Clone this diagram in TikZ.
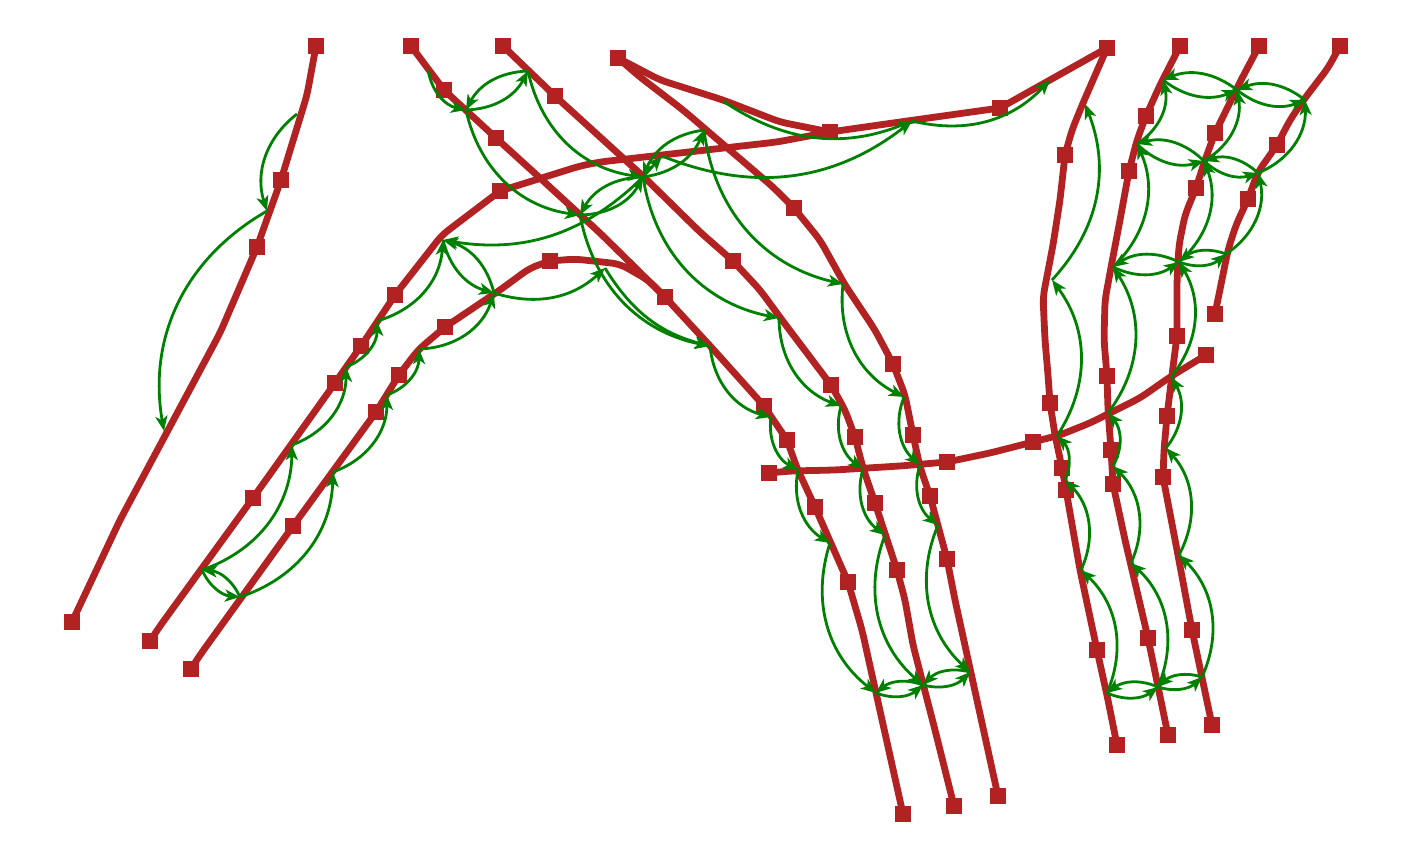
\documentclass[tikz,border=0pt]{standalone}
\usetikzlibrary{arrows.meta}
\definecolor{fb}{RGB}{178,34,34}
\definecolor{gg}{RGB}{0,128,0}
\begin{document}
\begin{tikzpicture}[x=1pt,y=-1pt,
 redline/.style={draw=fb, line width=6.8pt, line join=round, line cap=round, rounded corners=8pt},
 sq/.style={fill=fb, rectangle, minimum size=16.5pt, inner sep=0pt, draw=none},
 ga/.style={draw=gg, line width=2.8pt, -{Stealth[length=15pt,width=12pt,inset=4pt]}},
 ch/.style={ga, bend right=35},
 pr/.style={ga, bend right=30}]
\useasboundingbox (0,0) rectangle (1409,860);
% red lines
\draw[redline] (316,46) -- (307,95) -- (281,180) -- (257,247) -- (220,333) -- (120,520) -- (80,605) -- (72,622);
\draw[redline] (150,641) -- (160,626) -- (253,498) -- (335,383) -- (361,346) -- (395,295) -- (442,235) -- (500,191) -- (580,166) -- (600,162) -- (777,142) -- (830,132);
\draw[redline] (191,669) -- (200,655) -- (293,526) -- (376,412) -- (399,375) -- (418,350) -- (445,327) -- (500,290) -- (530,268) -- (550,261) -- (575,259) -- (620,264) -- (648,280) -- (665,297);
\draw[redline] (411,46) -- (444,90) -- (496,138) -- (540,178) -- (600,233) -- (665,297) -- (712,348) -- (764,406) -- (787,440) -- (797,468) -- (815,507) -- (848,582) -- (862,630) -- (903,814);
\draw[redline] (503,46) -- (555,96) -- (600,137) -- (645,178) -- (700,232) -- (733,261) -- (760,290) -- (782,320) -- (831,385) -- (845,410) -- (855,437) -- (863,468) -- (875,503) -- (897,570) -- (905,600) -- (913,645) -- (935,730) -- (945,770) -- (954,806);
\draw[redline] (618,58) -- (640,77) -- (683,110) -- (773,187) -- (794,208) -- (820,240) -- (845,285) -- (875,330) -- (893,364) -- (905,395) -- (913,435) -- (920,467) -- (930,496) -- (947,559) -- (955,600) -- (998,796);
\draw[redline] (618,58) -- (660,80) -- (723,100) -- (780,122) -- (830,132) -- (900,122) -- (950,115) -- (1000,108) -- (1107,48);
\draw[redline] (1107,48) -- (1083,103) -- (1072,130) -- (1065,155) -- (1060,200) -- (1053,245) -- (1043,297) -- (1045,340) -- (1048,375) -- (1050,403) -- (1055,435) -- (1062,468) -- (1066,490) -- (1080,570) -- (1097,650) -- (1108,700) -- (1117,745);
\draw[redline] (769,473) -- (790,471) -- (835,470) -- (900,466) -- (947,462) -- (990,453) -- (1033,442) -- (1060,435) -- (1090,423) -- (1110,413) -- (1140,398) -- (1170,377) -- (1206,355);
\draw[redline] (1180,46) -- (1160,85) -- (1146,116) -- (1137,140) -- (1129,171) -- (1120,220) -- (1112,262) -- (1105,300) -- (1104,340) -- (1107,376) -- (1108,410) -- (1111,450) -- (1113,484) -- (1125,540) -- (1148,638) -- (1168,735);
\draw[redline] (1259,46) -- (1240,82) -- (1215,133) -- (1205,160) -- (1196,188) -- (1185,215) -- (1179,245) -- (1177,280) -- (1177,336) -- (1172,375) -- (1167,416) -- (1164,450) -- (1163,477) -- (1177,550) -- (1192,630) -- (1212,725);
\draw[redline] (1340,46) -- (1328,68) -- (1305,98) -- (1290,120) -- (1277,145) -- (1258,172) -- (1248,199) -- (1236,225) -- (1228,250) -- (1215,314);
% squares
\foreach \x/\y [count=\i] in {316/46,281/180,257/247,72/622,150/641,253/498,335/383,361/346,395/295,500/191,191/669,293/526,376/412,399/375,445/327,550/261,411/46,444/90,496/138,665/297,764/406,787/440,815/507,848/582,903/814,503/46,555/96,733/261,831/385,855/437,875/503,897/570,954/806,618/58,794/208,893/364,913/435,930/496,947/559,998/796,830/132,1000/108,1107/48,1065/155,1050/403,1062/468,1066/490,1097/650,1117/745,769/473,947/462,1033/442,1206/355,1180/46,1146/116,1129/171,1107/376,1111/450,1113/484,1148/638,1168/735,1259/46,1215/133,1196/188,1177/336,1167/416,1163/477,1192/630,1212/725,1340/46,1277/145,1248/199,1215/314}
  \node[sq] (s\i) at (\x,\y) {};
% arrow end points
\coordinate (A1) at (297,114); \coordinate (A2) at (267,211); \coordinate (A3) at (164,431);
\coordinate (B0) at (202,570); \coordinate (B1) at (292,445); \coordinate (B2) at (346,367); \coordinate (B3) at (377,321); \coordinate (B4) at (443,240); \coordinate (B5) at (662,156);
\coordinate (C0) at (240,597); \coordinate (C1) at (333,472); \coordinate (C2) at (387,395); \coordinate (C3) at (419,349); \coordinate (C4) at (494,293); \coordinate (C5) at (605,268);
\coordinate (D1) at (428,69); \coordinate (D2) at (466,110); \coordinate (D3) at (580,215); \coordinate (D4) at (710,346); \coordinate (D5) at (771,417); \coordinate (D6) at (798,470); \coordinate (D7) at (830,543); \coordinate (D8) at (876,693);
\coordinate (E1) at (528,71); \coordinate (E2) at (643,177); \coordinate (E3) at (779,318); \coordinate (E4) at (841,406); \coordinate (E5) at (863,469); \coordinate (E6) at (885,535); \coordinate (E8) at (923,685);
\coordinate (F1) at (704,130); \coordinate (F2) at (843,284); \coordinate (F3) at (904,397); \coordinate (F4) at (920,465); \coordinate (F5) at (938,525); \coordinate (F8) at (970,672);
\coordinate (G1) at (723,101); \coordinate (G2) at (912,121); \coordinate (G4) at (1050,80);
\coordinate (H1) at (1085,104); \coordinate (H2) at (1052,280); \coordinate (H3) at (1057,436); \coordinate (H4) at (1065,480); \coordinate (H6) at (1081,570); \coordinate (H7) at (1107,693);
\coordinate (J1) at (1163,80); \coordinate (J2) at (1137,144); \coordinate (J3) at (1113,267); \coordinate (J4) at (1108,413); \coordinate (J5) at (1113,466); \coordinate (J6) at (1131,563); \coordinate (J7) at (1158,687);
\coordinate (K1) at (1237,90); \coordinate (K2) at (1204,161); \coordinate (K3) at (1179,262); \coordinate (K4) at (1171,377); \coordinate (K5) at (1166,448); \coordinate (K6) at (1179,555); \coordinate (K7) at (1202,677);
\coordinate (L1) at (1305,100); \coordinate (L2) at (1258,173); \coordinate (L3) at (1226,254);
% green arrows
\draw[ch] (A1) to (A2);
\draw[ch] (A2) to (A3);
\draw[ch] (B0) to (B1); \draw[ch] (B1) to (B2); \draw[ch] (B2) to (B3); \draw[ch] (B3) to (B4);
\draw[ch] (C0) to (C1); \draw[ch] (C1) to (C2); \draw[ch] (C2) to (C3); \draw[ch] (C3) to (C4);
\draw[pr] (B0) to (C0); \draw[pr] (C0) to (B0);
\draw[pr] (B4) to (C4); \draw[pr] (C4) to (B4);
\draw[ch] (D1) to (D2);
\draw[pr] (D2) to (E1); \draw[pr] (E1) to (D2);
\draw[ch] (E1) to (E2); \draw[ch] (D2) to (D3);
\draw[pr] (D3) to (E2); \draw[pr] (E2) to (D3);
\draw[ga, bend left=27] (E2) to (B4);
\draw[pr] (E2) to (F1); \draw[pr] (F1) to (E2);
\draw[ga] (E2) -- (B5);
\draw[ga, bend right=30] (B5) to (G2);
\draw[ga, bend right=28] (G1) to (G2);
\draw[ga, bend right=30] (G2) to (G4);
\draw[ga, bend right=30] (C4) to (C5);
\draw[ch] (E2) to (E3); \draw[ch] (F1) to (F2);
\draw[ga, bend right=34] (D3) to (D4); \draw[ga, bend right=22] (C5) to (D4);
\draw[ch] (D4) to (D5); \draw[ch] (E3) to (E4); \draw[ch] (F2) to (F3);
\draw[ch] (D5) to (D6); \draw[ch] (E4) to (E5); \draw[ch] (F3) to (F4);
\draw[ch] (D6) to (D7); \draw[ch] (E5) to (E6); \draw[ch] (F4) to (F5);
\draw[ch] (D7) to (D8); \draw[ch] (E6) to (E8); \draw[ch] (F5) to (F8);
\draw[pr] (D8) to (E8); \draw[pr] (E8) to (D8);
\draw[pr] (E8) to (F8); \draw[pr] (F8) to (E8);
% right cluster
\draw[ch] (H7) to (H6); \draw[ch] (H6) to (H4); \draw[ch] (H4) to (H3); \draw[ch] (H3) to (H2); \draw[ga, bend right=32] (H2) to (H1);
\draw[ch] (J7) to (J6); \draw[ch] (J6) to (J5); \draw[ch] (J5) to (J4); \draw[ch] (J4) to (J3); \draw[ch] (J3) to (J2); \draw[ch] (J2) to (J1);
\draw[ch] (K7) to (K6); \draw[ch] (K6) to (K5); \draw[ch] (K5) to (K4); \draw[ch] (K4) to (K3); \draw[ch] (K3) to (K2); \draw[ch] (K2) to (K1);
\draw[ch] (L3) to (L2); \draw[ch] (L2) to (L1);
\draw[pr] (J1) to (K1); \draw[pr] (K1) to (J1);
\draw[pr] (K1) to (L1); \draw[pr] (L1) to (K1);
\draw[pr] (J2) to (K2); \draw[pr] (K2) to (J2);
\draw[pr] (K2) to (L2); \draw[pr] (L2) to (K2);
\draw[pr] (J3) to (K3); \draw[pr] (K3) to (J3);
\draw[pr] (K3) to (L3); \draw[pr] (L3) to (K3);
\draw[pr] (H7) to (J7); \draw[pr] (J7) to (H7);
\draw[pr] (J7) to (K7); \draw[pr] (K7) to (J7);
\end{tikzpicture}
\end{document}
